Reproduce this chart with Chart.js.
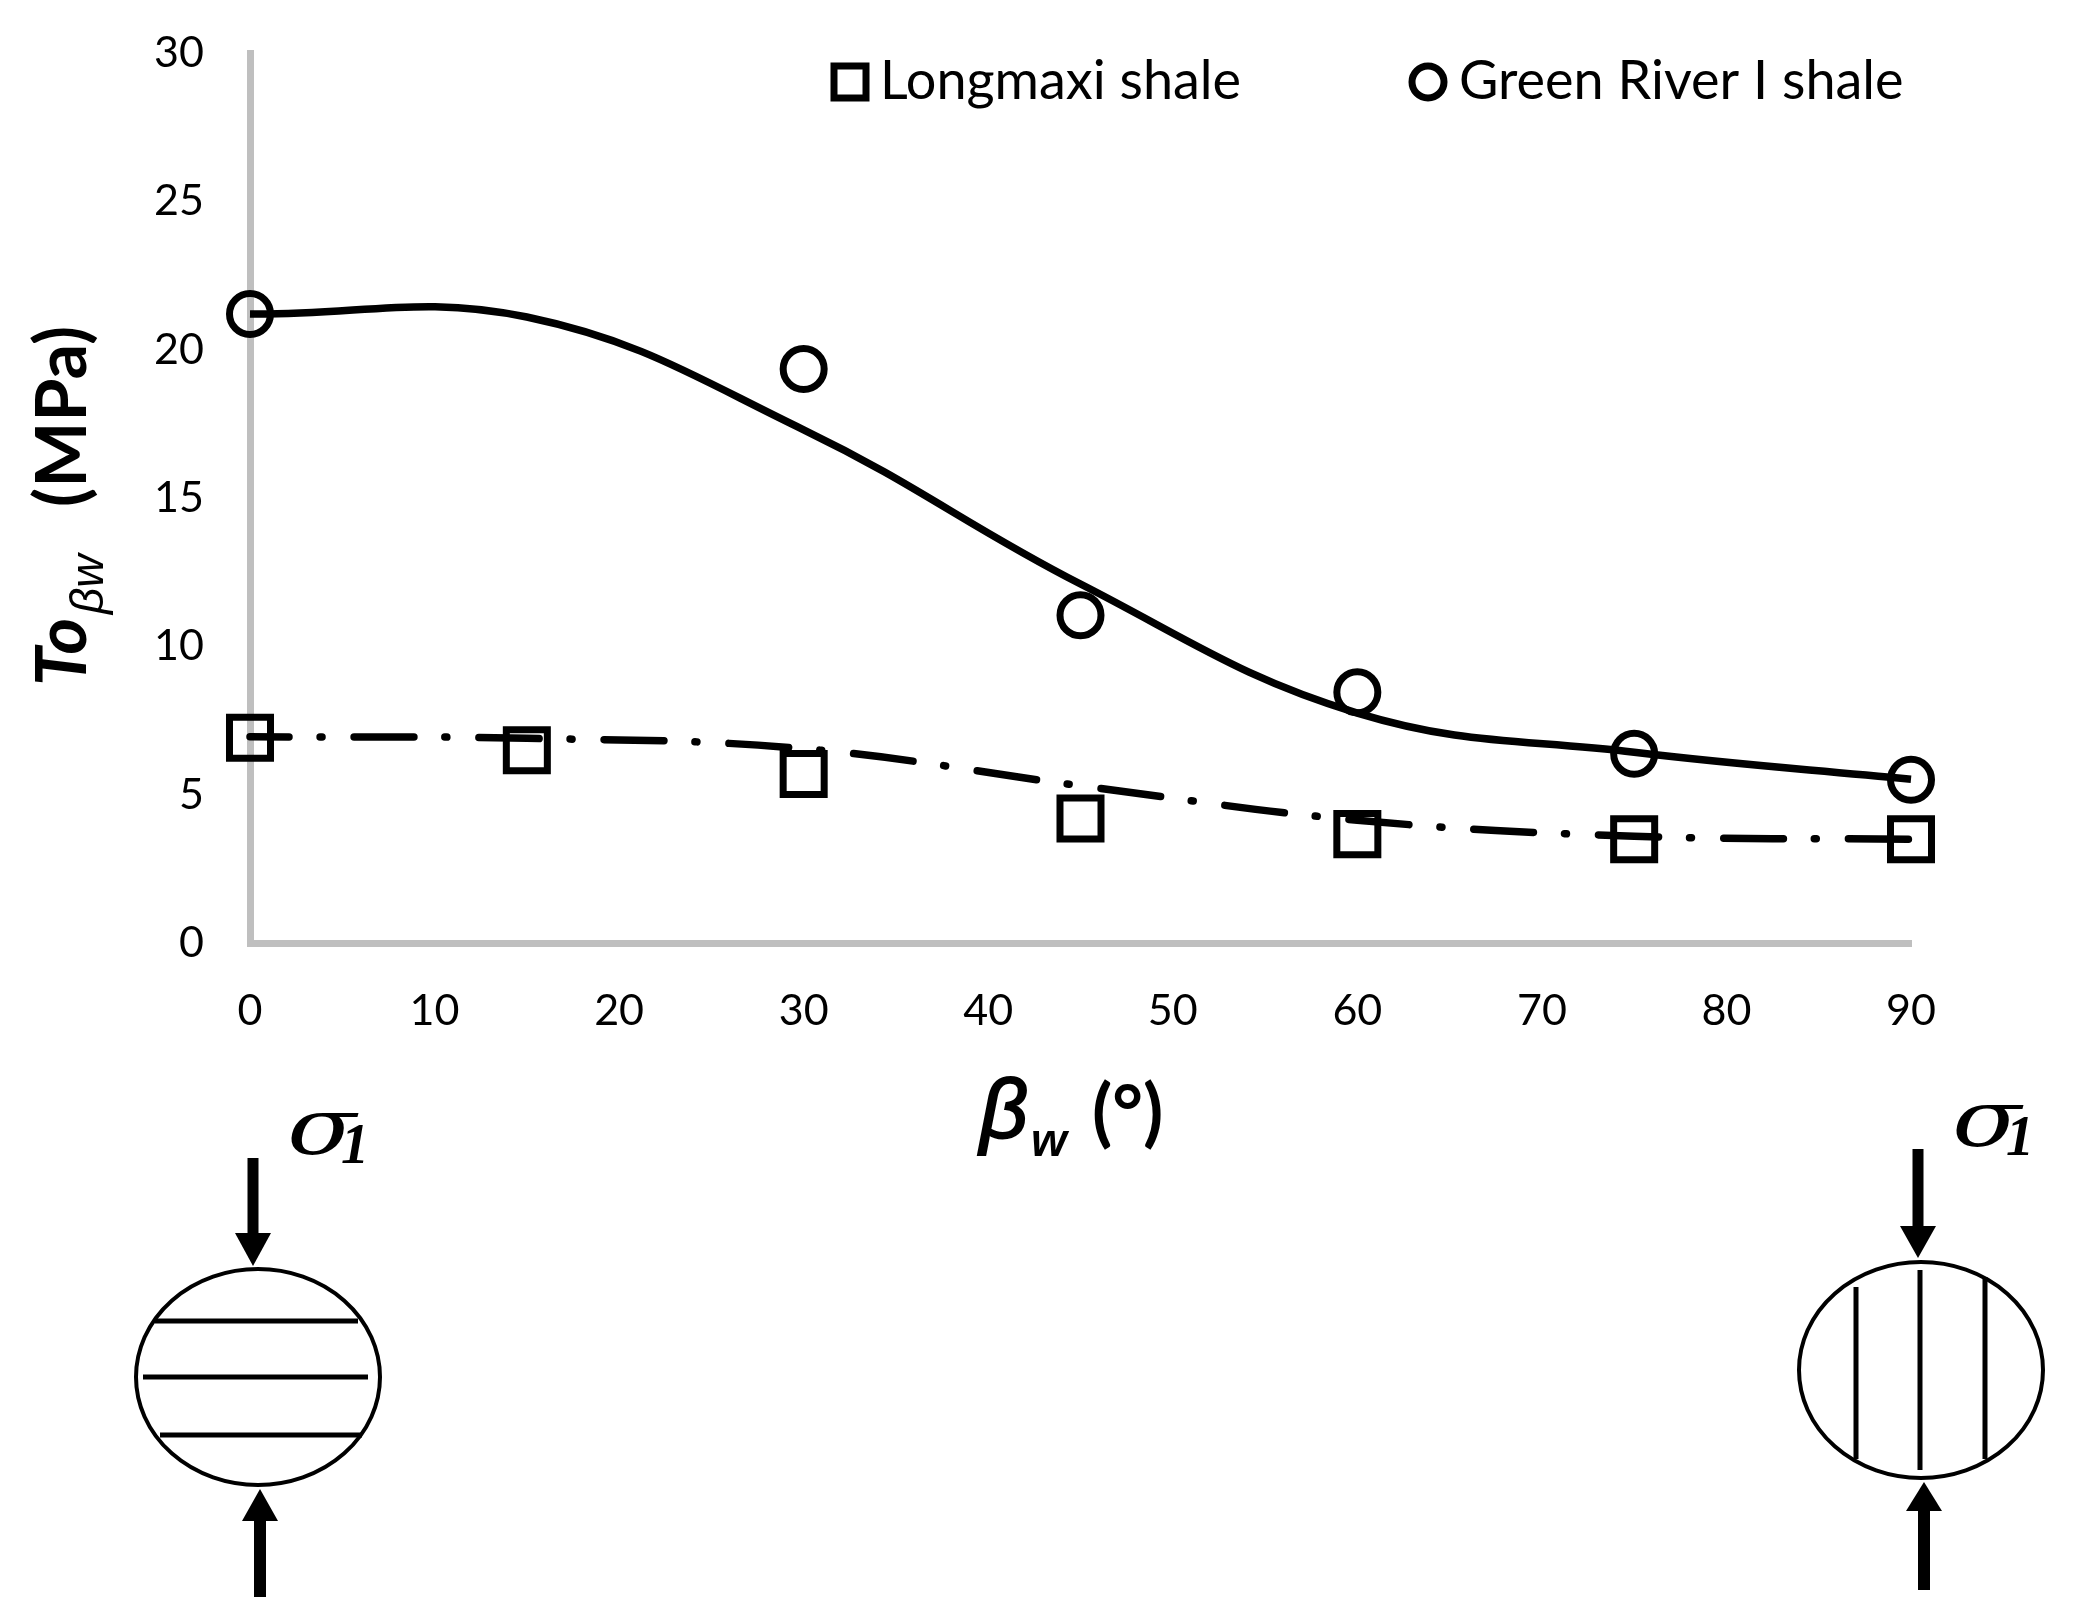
<!DOCTYPE html>
<html>
<head>
<meta charset="utf-8">
<title>To vs beta_w</title>
<script src="https://cdn.jsdelivr.net/npm/chart.js@4/dist/chart.umd.min.js"></script>
<style>
  html, body { margin: 0; padding: 0; background: #fff; }
  canvas { display: block; }
</style>
</head>
<body>
<canvas id="chart" width="2077" height="1619"></canvas>
<script>
// values
const xTicks = [0, 10, 20, 30, 40, 50, 60, 70, 80, 90];
const yTicks = [0, 5, 10, 15, 20, 25, 30];

const longmaxiAngles = [0, 15, 30, 45, 60, 75, 90];
const longmaxiValues = [6.92, 6.5, 5.7, 4.2, 3.67, 3.5, 3.5];
const longmaxiFitValues = [6.95, 6.9, 6.55, 5.3, 4.14, 3.6, 3.5];

const greenRiverAngles = [0, 30, 45, 60, 75, 90];
const greenRiverValues = [21.2, 19.35, 11.05, 8.45, 6.38, 5.5];
const greenRiverFitAngles = [0, 15, 30, 45, 60, 75, 90];
const greenRiverFitValues = [21.2, 21.1, 17.3, 12.1, 7.75, 6.43, 5.52];

const seriesNames = ['Longmaxi shale', 'Green River I shale'];

function toPoints(xs, ys) {
    return xs.map((x, i) => ({ x: x, y: ys[i] }));
}

function arrow(ctx, x, from, tip, base, headWidth, shaft) {
    ctx.lineWidth = shaft;
    ctx.beginPath();
    ctx.moveTo(x, from);
    ctx.lineTo(x, base);
    ctx.stroke();
    ctx.beginPath();
    ctx.moveTo(x - headWidth / 2, base);
    ctx.lineTo(x + headWidth / 2, base);
    ctx.lineTo(x, tip);
    ctx.closePath();
    ctx.fill();
}

function sigmaLabel(ctx, x, y) {
    // the sigma in the picture is wider than any installed one
    ctx.save();
    ctx.translate(x, y);
    ctx.scale(1.3, 1);
    ctx.font = 'italic 78px "DejaVu Serif"';
    ctx.fillText('σ', 0, 0);
    ctx.restore();
    ctx.font = 'italic bold 56px "Liberation Serif"';
    ctx.fillText('1', x + 54, y + 9);
}

// titles, legend and the two small specimen sketches
const extrasPlugin = {
    id: 'extras',
    afterDraw(chart) {
        const ctx = chart.ctx;
        ctx.save();
        ctx.fillStyle = '#000';
        ctx.strokeStyle = '#000';
        ctx.textAlign = 'left';
        ctx.textBaseline = 'alphabetic';

        // y title
        ctx.save();
        ctx.translate(86, 686);
        ctx.rotate(-Math.PI / 2);
        ctx.font = 'italic bold 70px Lato';
        ctx.fillText('To', 0, 0);
        ctx.font = 'italic 46px "Liberation Sans"';
        ctx.fillText('βw', 72, 17);
        ctx.font = 'bold 70px Lato';
        ctx.fillText('(MPa)', 179, 0);
        ctx.restore();

        // x title
        ctx.font = 'italic 84px "Liberation Sans"';
        ctx.lineWidth = 2;
        ctx.fillText('β', 980, 1138);
        ctx.strokeText('β', 980, 1138);
        ctx.font = 'italic bold 46px "Liberation Sans"';
        ctx.fillText('w', 1031, 1156);
        ctx.font = 'bold 74px Lato';
        ctx.fillText('(°)', 1092, 1138);

        // legend
        ctx.lineWidth = 7;
        ctx.strokeRect(834, 66, 32, 32);
        ctx.beginPath();
        ctx.arc(1428, 82, 16, 0, Math.PI * 2);
        ctx.stroke();
        ctx.font = '54px Lato';
        ctx.fillText(seriesNames[0], 880, 99);
        ctx.fillText(seriesNames[1], 1459, 99);

        // left sketch
        ctx.lineWidth = 4;
        ctx.beginPath();
        ctx.ellipse(258, 1377, 122, 108, 0, 0, Math.PI * 2);
        ctx.stroke();
        ctx.lineWidth = 5;
        [[155, 358, 1321], [143, 368, 1377], [160, 362, 1435]].forEach(l => {
            ctx.beginPath();
            ctx.moveTo(l[0], l[2]);
            ctx.lineTo(l[1], l[2]);
            ctx.stroke();
        });
        arrow(ctx, 253, 1158, 1266, 1233, 36, 11);
        arrow(ctx, 260, 1597, 1489, 1521, 36, 12);
        sigmaLabel(ctx, 287, 1154);

        // right sketch
        ctx.lineWidth = 4;
        ctx.beginPath();
        ctx.ellipse(1921, 1370, 122, 108, 0, 0, Math.PI * 2);
        ctx.stroke();
        ctx.lineWidth = 5;
        [[1856, 1287, 1459], [1920, 1270, 1470], [1985, 1277, 1459]].forEach(l => {
            ctx.beginPath();
            ctx.moveTo(l[0], l[1]);
            ctx.lineTo(l[0], l[2]);
            ctx.stroke();
        });
        arrow(ctx, 1918, 1149, 1258, 1226, 36, 11);
        arrow(ctx, 1924, 1590, 1482, 1511, 36, 12);
        sigmaLabel(ctx, 1952, 1146);

        ctx.restore();
    }
};

new Chart(document.getElementById('chart').getContext('2d'), {
    type: 'scatter',
    data: {
        datasets: [
            {
                label: seriesNames[0] + ' fit',
                data: toPoints(longmaxiAngles, longmaxiFitValues),
                showLine: true,
                borderColor: '#000',
                borderWidth: 7.5,
                borderCapStyle: 'round',
                borderDash: [60, 31, 2, 32],
                borderDashOffset: 21,
                tension: 0.4,
                pointRadius: 0,
                clip: false
            },
            {
                label: seriesNames[1] + ' fit',
                data: toPoints(greenRiverFitAngles, greenRiverFitValues),
                showLine: true,
                borderColor: '#000',
                borderWidth: 7.5,
                tension: 0.4,
                pointRadius: 0,
                clip: false
            },
            {
                label: seriesNames[0],
                data: toPoints(longmaxiAngles, longmaxiValues),
                pointStyle: 'rect',
                pointRadius: 29,
                pointBorderWidth: 7,
                pointBorderColor: '#000',
                pointBackgroundColor: 'transparent',
                clip: false
            },
            {
                label: seriesNames[1],
                data: toPoints(greenRiverAngles, greenRiverValues),
                pointStyle: 'circle',
                pointRadius: 20.5,
                pointBorderWidth: 7,
                pointBorderColor: '#000',
                pointBackgroundColor: 'transparent',
                clip: false
            }
        ]
    },
    options: {
        responsive: false,
        animation: false,
        devicePixelRatio: 1,
        layout: { padding: { top: 53, right: 166, left: 0, bottom: 0 } },
        plugins: {
            legend: { display: false },
            tooltip: { enabled: false }
        },
        scales: {
            x: {
                type: 'linear',
                min: 0,
                max: 90,
                afterBuildTicks(scale) { scale.ticks = xTicks.map(v => ({ value: v })); },
                afterFit(scale) { scale.height = 676; },
                grid: { display: false, drawTicks: false },
                border: { color: '#bfbfbf', width: 7 },
                ticks: { color: '#000', padding: 42, maxRotation: 0, font: { family: 'Lato', size: 43 } }
            },
            y: {
                type: 'linear',
                min: 0,
                max: 30,
                afterBuildTicks(scale) { scale.ticks = yTicks.map(v => ({ value: v })); },
                // keep the label padding from pushing the plot area down
                afterFit(scale) { scale.width = 250; scale.paddingTop = 0; scale.paddingBottom = 0; },
                grid: { display: false, drawTicks: false },
                border: { color: '#bfbfbf', width: 7 },
                ticks: { color: '#000', padding: 46, font: { family: 'Lato', size: 43 } }
            }
        }
    },
    plugins: [extrasPlugin]
});
</script>
</body>
</html>
